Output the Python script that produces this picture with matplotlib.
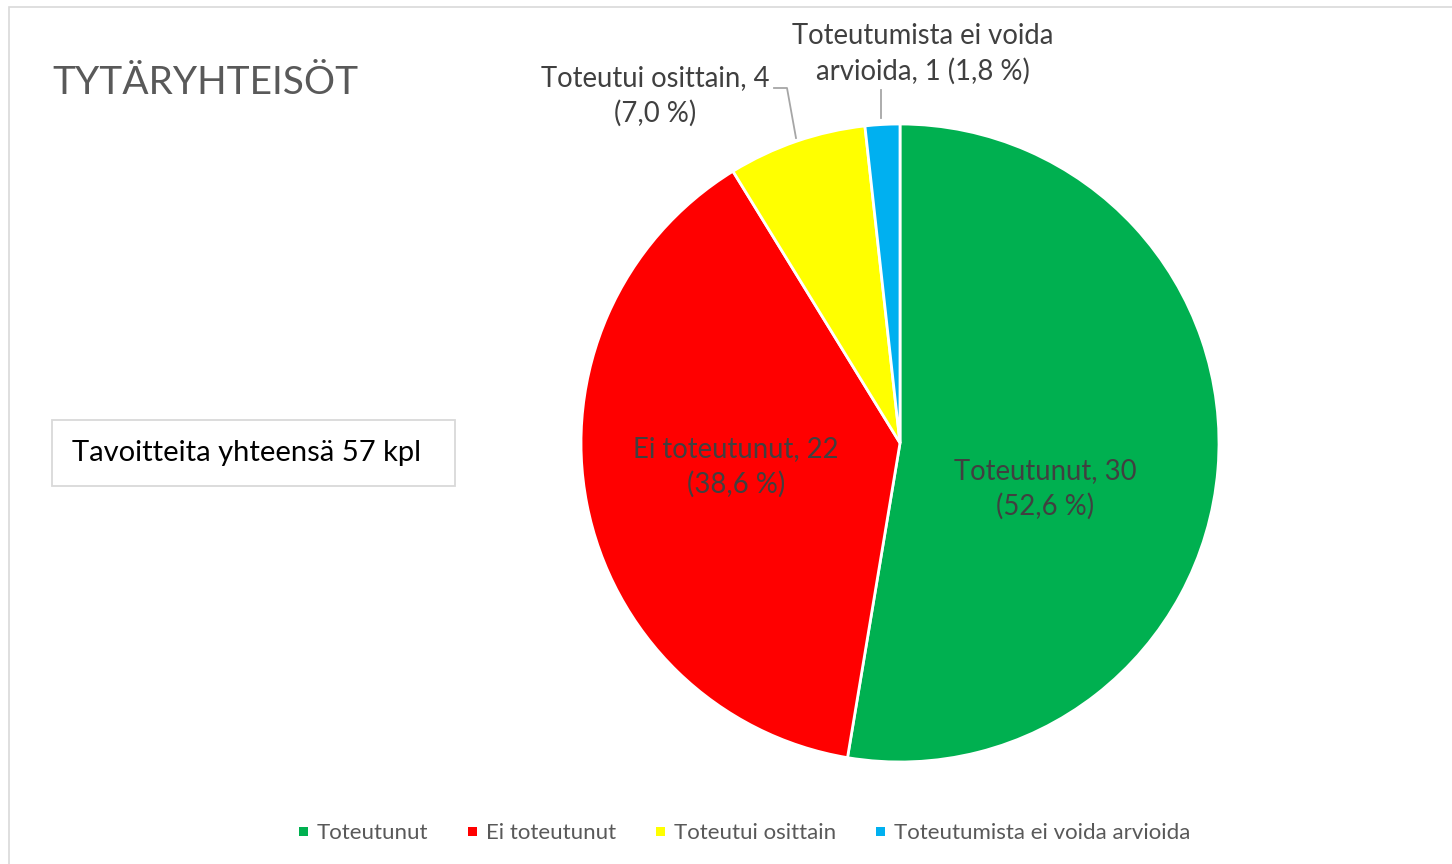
import matplotlib
matplotlib.use("Agg")
import matplotlib.pyplot as plt
from matplotlib.patches import Rectangle

categories = ["Toteutunut", "Ei toteutunut", "Toteutui osittain", "Toteutumista ei voida arvioida"]
values = [30, 22, 4, 1]
colors = ["#00B050", "#FF0000", "#FFFF00", "#00B0F0"]
title = "TYTÄRYHTEISÖT"
total_text = "Tavoitteita yhteensä 57 kpl"

W, H = 1452, 864
plt.rcParams['font.family'] = ['Lato', 'DejaVu Sans']
fig = plt.figure(figsize=(W/100, H/100), dpi=100)
ax = fig.add_axes([0, 0, 1, 1])
ax.set_xlim(0, W)
ax.set_ylim(0, H)
ax.axis('off')

def Y(y):
    return H - y

# outer frame
fig.patches.append(Rectangle((9/W, -0.1), 2, 1.1 - 7/H, transform=fig.transFigure,
                             fill=False, edgecolor="#d9d9d9", linewidth=1.2))

wedges, _ = ax.pie(values, colors=colors, startangle=90, counterclock=False,
                   center=(900, Y(443)), radius=319,
                   wedgeprops=dict(edgecolor="white", linewidth=2.0))
ax.set_xlim(0, W)
ax.set_ylim(0, H)
ax.set_aspect('auto')

total = sum(values)
def pct(v):
    return f"({v/total*100:.1f} %)".replace('.', ',')

txtc = "#404040"
fs = 19.8
ls = 1.42
ax.text(1045, Y(489), f"{categories[0]}, {values[0]}\n{pct(values[0])}", ha='center', va='center',
        fontsize=fs, color=txtc, linespacing=ls)
ax.text(736, Y(467), f"{categories[1]}, {values[1]}\n{pct(values[1])}", ha='center', va='center',
        fontsize=fs, color=txtc, linespacing=ls)
ax.text(655, Y(96), f"{categories[2]}, {values[2]}\n{pct(values[2])}", ha='center', va='center',
        fontsize=fs, color=txtc, linespacing=ls)
ax.text(923, Y(54), "Toteutumista ei voida\narvioida, " + f"{values[3]} {pct(values[3])}", ha='center', va='center',
        fontsize=fs, color=txtc, linespacing=ls)

# leader lines
ax.plot([774, 787, 796], [Y(88), Y(88), Y(138)], color="#a6a6a6", lw=1.3)
ax.plot([881, 881], [Y(90), Y(118)], color="#a6a6a6", lw=1.3)

# title
ax.text(52, Y(83), title, ha='left', va='center', fontsize=28, color="#595959")

# total box
ax.add_patch(Rectangle((52, Y(486)), 403, 66, fill=True, facecolor='white', edgecolor="#d9d9d9", lw=1.3))
ax.text(72, Y(453), total_text, ha='left', va='center', fontsize=21, color="black")

# legend
leg_x = [303, 472, 660, 880]
for x, c, lab in zip(leg_x, colors, categories):
    ax.add_patch(Rectangle((x - 4.5, Y(835.5)), 9, 9, facecolor=c, edgecolor='none'))
    ax.text(x + 14, Y(833), lab, ha='left', va='center', fontsize=16, color="#595959")

fig.savefig("out.png", dpi=100)
